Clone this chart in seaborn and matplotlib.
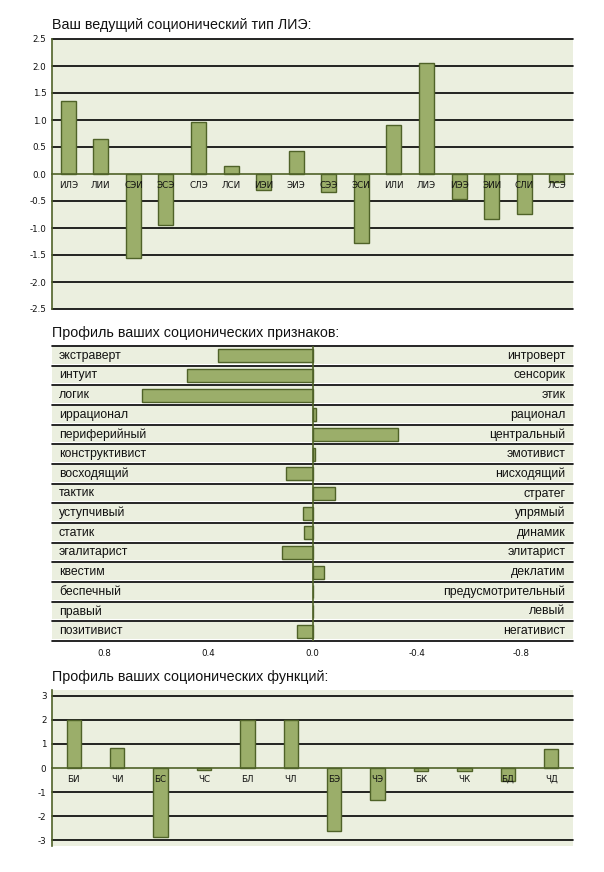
import numpy as np
import matplotlib
matplotlib.use("Agg")
import matplotlib.pyplot as plt
import matplotlib.transforms as mtransforms
import seaborn as sns

sns.set_style("white")
plt.rcParams['font.family'] = ['Liberation Sans', 'DejaVu Sans']

# ---------------- data ----------------
type_labels = ["ИЛЭ", "ЛИИ", "СЭИ", "ЭСЭ", "СЛЭ", "ЛСИ", "ИЭИ", "ЭИЭ",
               "СЭЭ", "ЭСИ", "ИЛИ", "ЛИЭ", "ИЭЭ", "ЭИИ", "СЛИ", "ЛСЭ"]
type_values = [1.35, 0.64, -1.56, -0.95, 0.96, 0.14, -0.30, 0.42,
               -0.33, -1.28, 0.90, 2.05, -0.47, -0.84, -0.74, -0.15]
type_yticks = [2.5, 2.0, 1.5, 1.0, 0.5, 0.0, -0.5, -1.0, -1.5, -2.0, -2.5]

trait_left = ["экстраверт", "интуит", "логик", "иррационал", "периферийный",
              "конструктивист", "восходящий", "тактик", "уступчивый", "статик",
              "эгалитарист", "квестим", "беспечный", "правый", "позитивист"]
trait_right = ["интроверт", "сенсорик", "этик", "рационал", "центральный",
               "эмотивист", "нисходящий", "стратег", "упрямый", "динамик",
               "элитарист", "деклатим", "предусмотрительный", "левый", "негативист"]
trait_values = [0.364, 0.48, 0.653, -0.013, -0.329, -0.009, 0.10, -0.086,
                0.038, 0.033, 0.116, -0.044, 0.0, 0.0, 0.061]
trait_xticks = [0.8, 0.4, 0.0, -0.4, -0.8]

func_labels = ["БИ", "ЧИ", "БС", "ЧС", "БЛ", "ЧЛ", "БЭ", "ЧЭ", "БК", "ЧК", "БД", "ЧД"]
func_values = [2.0, 0.84, -2.85, -0.07, 1.98, 2.0, -2.6, -1.31, -0.11, -0.11, -0.53, 0.80]
func_yticks = [3, 2, 1, 0, -1, -2, -3]

titles = ["Ваш ведущий соционический тип ЛИЭ:",
          "Профиль ваших соционических признаков:",
          "Профиль ваших соционических функций:"]

# ---------------- style ----------------
W, H = 604, 872
BG = "#EBEFDF"
FILL = "#9BAE6A"
EDGE = "#4F6228"
AXC = "#4F6228"

fig = plt.figure(figsize=(W / 100, H / 100), dpi=100)


def box(l, t, r, b):
    return [l / W, 1 - b / H, (r - l) / W, (b - t) / H]


def column_chart(ax, labels, values, yticks, ylim, width, fmt):
    ax.set_facecolor(BG)
    sns.barplot(x=labels, y=values, color=FILL, edgecolor=EDGE, linewidth=1.0,
                width=width, saturation=1, ax=ax, zorder=2)
    n = len(labels)
    ax.set_xlim(-0.5, n - 0.5)
    ax.set_ylim(*ylim)
    for v in yticks:
        if v != 0:
            ax.axhline(v, color="black", lw=1.2, zorder=0.5, clip_on=False)
    for s in ["top", "right"]:
        ax.spines[s].set_visible(False)
    ax.spines["left"].set_color(AXC)
    ax.spines["left"].set_linewidth(1.2)
    ax.spines["bottom"].set_position(("data", 0))
    ax.spines["bottom"].set_color(AXC)
    ax.spines["bottom"].set_linewidth(1.2)
    ax.spines["bottom"].set_zorder(3)
    ax.set_axisbelow(False)
    ax.set_yticks(yticks)
    ax.set_yticklabels([fmt.format(v) for v in yticks], fontsize=6.3,
                       family="DejaVu Sans", color="#111111")
    ax.tick_params(axis="y", length=3, width=1, color=AXC, pad=1)
    ax.set_xticks(range(n))
    ax.set_xticklabels(labels, fontsize=6.3, family="DejaVu Sans", color="#111111")
    ax.set_xticks([i + 0.5 for i in range(n)], minor=True)
    ax.tick_params(axis="x", which="major", length=0, pad=5)
    ax.tick_params(axis="x", which="minor", length=4, width=1, color=AXC,
                   direction="out")
    ax.set_xlabel("")
    ax.set_ylabel("")


# ---------- top chart ----------
ax1 = fig.add_axes(box(52, 39, 573, 309))
column_chart(ax1, type_labels, type_values, type_yticks, (-2.5, 2.5), 0.46, "{:.1f}")

# ---------- middle chart ----------
ax2 = fig.add_axes(box(52, 346, 573, 641))
ax2.set_facecolor("white")
n2 = len(trait_left)
sns.barplot(x=trait_values, y=trait_left, orient="h", color=FILL, edgecolor=EDGE,
            linewidth=1.0, width=0.66, saturation=1, ax=ax2, zorder=2)
ax2.set_xlim(1.0, -1.0)
ax2.set_ylim(n2 - 0.5, -0.5)
for i in range(n2):
    ax2.axhspan(i - 0.45, i + 0.39, color=BG, lw=0, zorder=0.3)
for i in range(n2 + 1):
    ax2.axhline(i - 0.5, color="black", lw=1.2, zorder=0.6, clip_on=False)
ax2.axvline(0, color=AXC, lw=1.2, zorder=3)
blend = mtransforms.blended_transform_factory(ax2.transAxes, ax2.transData)
for i in range(n2):
    ax2.text(0.0134, i, trait_left[i], transform=blend, ha="left", va="center",
             fontsize=8.8, color="#111111")
    ax2.text(0.985, i, trait_right[i], transform=blend, ha="right", va="center",
             fontsize=8.8, color="#111111")
for s in ax2.spines.values():
    s.set_visible(False)
ax2.set_yticks([])
ax2.set_xticks(trait_xticks)
ax2.set_xticklabels(["{:.1f}".format(v) for v in trait_xticks], fontsize=6.3,
                    family="DejaVu Sans", color="#111111")
ax2.tick_params(axis="x", length=0, pad=6)
ax2.set_xlabel("")
ax2.set_ylabel("")

# ---------- bottom chart ----------
ax3 = fig.add_axes(box(52, 690, 573, 846))
column_chart(ax3, func_labels, func_values, func_yticks, (-3.23, 3.23), 0.33, "{:d}")

# ---------- titles ----------
for txt, yb in zip(titles, [28.7, 337.5, 680.5]):
    fig.text(52 / W, 1 - yb / H, txt, ha="left", va="baseline", fontsize=10.3,
             color="#111111")

fig.savefig("out.png", dpi=100)
